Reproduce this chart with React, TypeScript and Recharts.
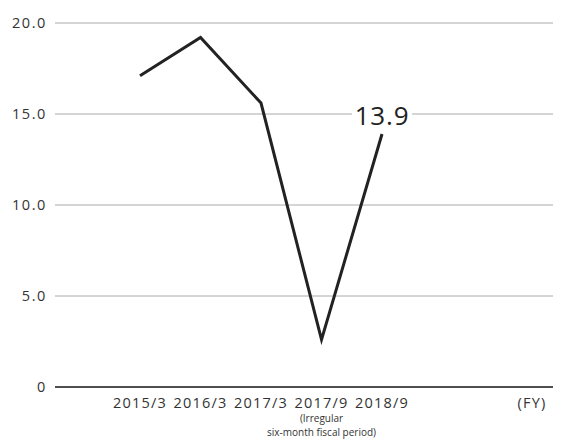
import React from 'react';
import { LineChart, Line, XAxis, YAxis, CartesianGrid } from 'recharts';

const categories = ['2015/3', '2016/3', '2017/3', '2017/9', '2018/9'];
const values = [17.1, 19.2, 15.6, 2.6, 13.9];
const yTicks = [0, 5, 10, 15, 20];
const unitLabel = '(FY)';
const noteLines = ['(Irregular', 'six-month fiscal period)'];
const noteCategory = '2017/9';
const calloutText = '13.9';

const data = categories.map((c, i) => ({ idx: i, name: c, value: values[i] }));
const xTicks = [...categories.map((_, i) => i), 6.48];
const xLabel = (v: number) => (v < categories.length ? categories[v] : unitLabel);

const FONT = '"Open Sans", Lato, "DejaVu Sans", sans-serif';

const XTick = (props: any) => {
  const { x, y, payload } = props;
  const label = xLabel(payload.value);
  return (
    <g>
      <text x={x} y={y + 13} textAnchor="middle" fontSize={14.5} letterSpacing={1.2} fill="#333" fontFamily={FONT}>
        {label}
      </text>
      {label === noteCategory &&
        noteLines.map((l, i) => (
          <text key={i} x={x} y={y + 27 + i * 14} textAnchor="middle" fontSize={10} fill="#333" fontFamily={FONT}>
            {l}
          </text>
        ))}
    </g>
  );
};

const YTick = (props: any) => {
  const { x, y, payload } = props;
  const v = payload.value;
  return (
    <text x={x} y={y + 5} textAnchor="end" fontSize={14.5} letterSpacing={1.6} fill="#333" fontFamily={FONT}>
      {v === 0 ? '0' : v.toFixed(1)}
    </text>
  );
};

const Callout = (props: any) => {
  const { x, y, index } = props;
  if (index !== values.length - 1) return null;
  return (
    <g>
      <rect x={x - 30} y={y - 32} width={60} height={28} fill="#fff" />
      <text x={x} y={y - 9} textAnchor="middle" fontSize={26} letterSpacing={0.8} fill="#222" fontFamily={FONT}>
        {calloutText}
      </text>
    </g>
  );
};

export default function App() {
  return (
    <div style={{ position: 'absolute', left: 0, top: 0, background: '#fff' }}>
      <LineChart width={563} height={442} data={data} margin={{ top: 23, right: 10, bottom: 5, left: 0 }}>
        <CartesianGrid vertical={false} stroke="#aaa" strokeWidth={1} />
        <XAxis
          dataKey="idx"
          type="number"
          domain={[-1.405, 6.826]}
          ticks={xTicks}
          interval={0}
          height={50}
          tickLine={false}
          axisLine={{ stroke: '#222', strokeWidth: 1.5 }}
          tick={<XTick />}
          allowDataOverflow
        />
        <YAxis
          domain={[0, 20]}
          ticks={yTicks}
          width={55}
          axisLine={false}
          tickLine={false}
          tick={<YTick />}
        />
        <Line
          dataKey="value"
          stroke="#222"
          strokeWidth={3}
          dot={false}
          isAnimationActive={false}
          label={<Callout />}
        />
      </LineChart>
    </div>
  );
}
